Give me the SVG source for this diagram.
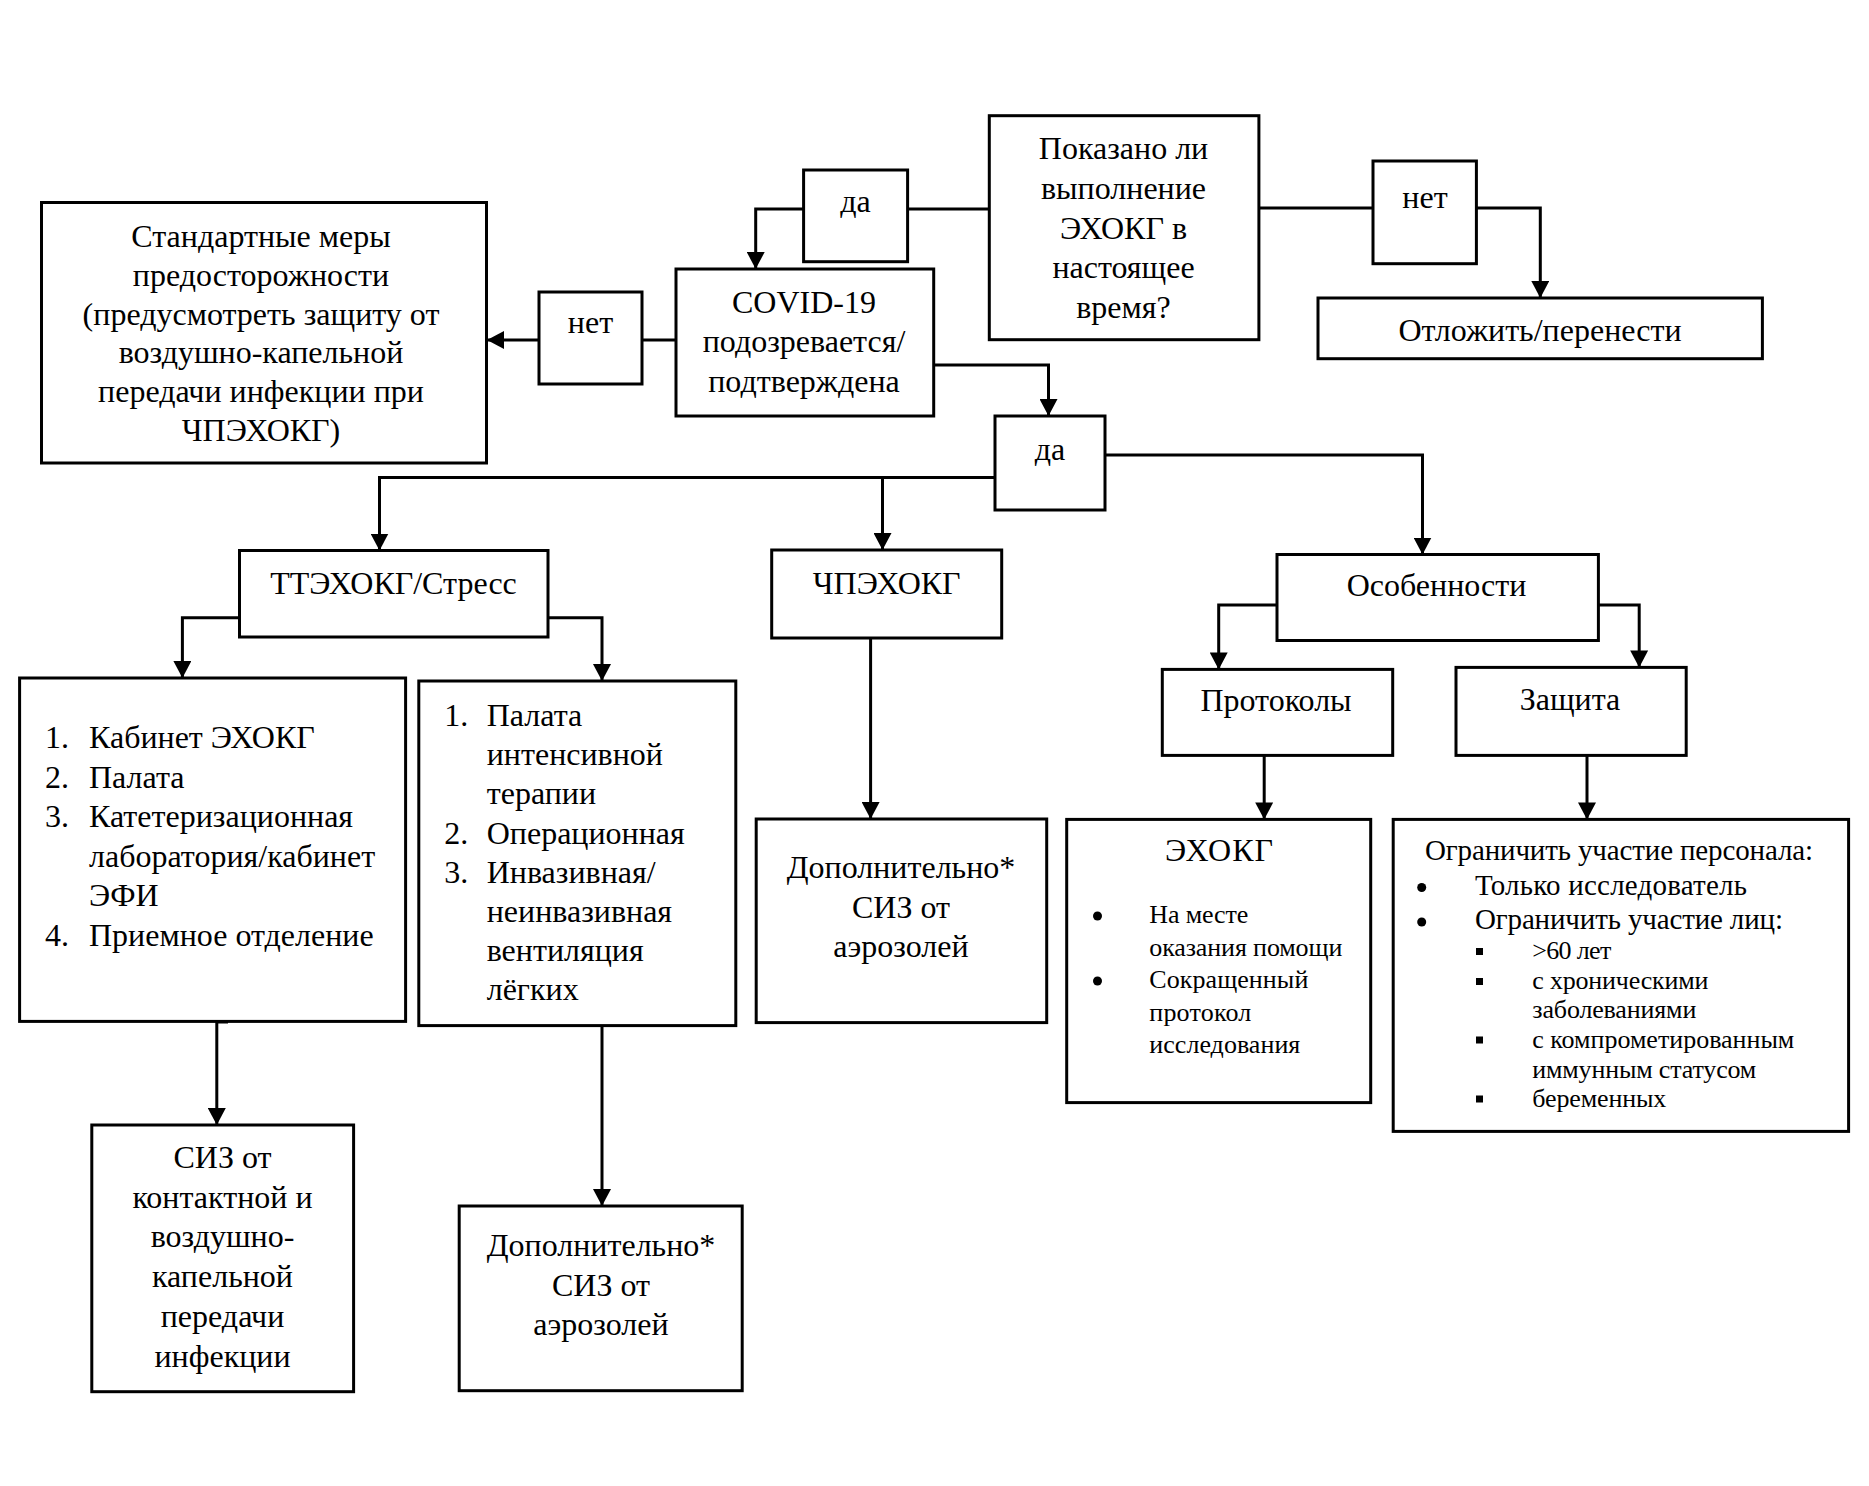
<svg xmlns="http://www.w3.org/2000/svg" width="1869" height="1486" viewBox="0 0 1869 1486">
<defs>
<style>
.box{fill:#fff;stroke:#000;stroke-width:3}
.t{font-family:"Liberation Serif","Times New Roman",serif;font-size:32px;fill:#000}
.c{text-anchor:middle}
.s29{font-size:29px}
.s26{font-size:26px}
.conn{fill:none;stroke:#000;stroke-width:3}
.dot{fill:#000}
</style>
<marker id="ah" markerWidth="18" markerHeight="18" refX="17" refY="9" orient="auto" markerUnits="userSpaceOnUse"><path d="M0,0 L17,9 L0,18 z" fill="#000"/></marker>
</defs>
<rect width="1869" height="1486" fill="#fff"/>

<g id="connectors">
<path class="conn" d="M989,209 H907.5"/>
<path class="conn" d="M803.6,209 H755.7 V269" marker-end="url(#ah)"/>
<path class="conn" d="M1259,208 H1373"/>
<path class="conn" d="M1476,208 H1540.3 V298" marker-end="url(#ah)"/>
<path class="conn" d="M676,340 H642"/>
<path class="conn" d="M539,340 H487" marker-end="url(#ah)"/>
<path class="conn" d="M933.7,365 H1048.5 V416" marker-end="url(#ah)"/>
<path class="conn" d="M995,477.5 H379.5 V550.5" marker-end="url(#ah)"/>
<path class="conn" d="M882.5,477.5 V550" marker-end="url(#ah)"/>
<path class="conn" d="M1105,455 H1422.5 V554.5" marker-end="url(#ah)"/>
<path class="conn" d="M239.5,617.7 H182.4 V678" marker-end="url(#ah)"/>
<path class="conn" d="M548,617.7 H602 V681" marker-end="url(#ah)"/>
<path class="conn" d="M870.6,638 V819" marker-end="url(#ah)"/>
<path class="conn" d="M1277,605 H1218.7 V669.4" marker-end="url(#ah)"/>
<path class="conn" d="M1598.4,605 H1639.2 V667.4" marker-end="url(#ah)"/>
<path class="conn" d="M1264.2,755.5 V819.4" marker-end="url(#ah)"/>
<path class="conn" d="M1587,755.5 V819.4" marker-end="url(#ah)"/>
<path class="conn" d="M228,1022 H216.8 V1125" marker-end="url(#ah)"/>
<path class="conn" d="M602,1026 V1206" marker-end="url(#ah)"/>
</g>

<g id="n-question">
<rect class="box" x="989.3" y="115.7" width="269.6" height="224"/>
<text class="t c" x="1123.5" y="159">Показано ли</text>
<text class="t c" x="1123.5" y="198.8">выполнение</text>
<text class="t c" x="1123.5" y="238.6">ЭХОКГ в</text>
<text class="t c" x="1123.5" y="278.4">настоящее</text>
<text class="t c" x="1123.5" y="318.2">время?</text>
</g>

<g id="n-da1">
<rect class="box" x="803.6" y="170" width="104" height="91.7"/>
<text class="t c" x="855.5" y="212">да</text>
</g>

<g id="n-net2">
<rect class="box" x="1373" y="161" width="103.4" height="102.7"/>
<text class="t c" x="1425" y="208">нет</text>
</g>

<g id="n-postpone">
<rect class="box" x="1318" y="298" width="444.4" height="60.7"/>
<text class="t c" x="1540" y="340.5">Отложить/перенести</text>
</g>

<g id="n-covid">
<rect class="box" x="676" y="269" width="257.7" height="147"/>
<text class="t c" x="804" y="312.5">COVID-19</text>
<text class="t c" x="804" y="352">подозревается/</text>
<text class="t c" x="804" y="391.5">подтверждена</text>
</g>

<g id="n-net1">
<rect class="box" x="539" y="292" width="103" height="92"/>
<text class="t c" x="590.5" y="333">нет</text>
</g>

<g id="n-standard">
<rect class="box" x="41.5" y="202.5" width="445" height="260.5"/>
<text class="t c" x="261" y="247">Стандартные меры</text>
<text class="t c" x="261" y="285.8">предосторожности</text>
<text class="t c" x="261" y="324.6">(предусмотреть защиту от</text>
<text class="t c" x="261" y="363.4">воздушно-капельной</text>
<text class="t c" x="261" y="402.2">передачи инфекции при</text>
<text class="t c" x="261" y="441">ЧПЭХОКГ)</text>
</g>

<g id="n-da2">
<rect class="box" x="995" y="416" width="110" height="94"/>
<text class="t c" x="1050" y="460">да</text>
</g>

<g id="n-tte">
<rect class="box" x="239.5" y="550.5" width="308.5" height="86.5"/>
<text class="t c" x="393.5" y="594">ТТЭХОКГ/Стресс</text>
</g>

<g id="n-chp">
<rect class="box" x="771.7" y="550" width="230" height="88"/>
<text class="t c" x="886.7" y="594">ЧПЭХОКГ</text>
</g>

<g id="n-osob">
<rect class="box" x="1277" y="554.5" width="321.4" height="86"/>
<text class="t c" x="1436.5" y="595.5">Особенности</text>
</g>

<g id="n-list1">
<rect class="box" x="19.6" y="678" width="386" height="343.4"/>
<text class="t" x="45" y="748">1.</text>
<text class="t" x="89" y="748">Кабинет ЭХОКГ</text>
<text class="t" x="45" y="787.6">2.</text>
<text class="t" x="89" y="787.6">Палата</text>
<text class="t" x="45" y="827.2">3.</text>
<text class="t" x="89" y="827.2">Катетеризационная</text>
<text class="t" x="89" y="866.8">лаборатория/кабинет</text>
<text class="t" x="89" y="906.4">ЭФИ</text>
<text class="t" x="45" y="946">4.</text>
<text class="t" x="89" y="946">Приемное отделение</text>
</g>

<g id="n-list2">
<rect class="box" x="418.8" y="681" width="317" height="344.6"/>
<text class="t" x="444.3" y="726">1.</text>
<text class="t" x="486.7" y="726">Палата</text>
<text class="t" x="486.7" y="765.2">интенсивной</text>
<text class="t" x="486.7" y="804.4">терапии</text>
<text class="t" x="444.3" y="843.6">2.</text>
<text class="t" x="486.7" y="843.6">Операционная</text>
<text class="t" x="444.3" y="882.8">3.</text>
<text class="t" x="486.7" y="882.8">Инвазивная/</text>
<text class="t" x="486.7" y="922">неинвазивная</text>
<text class="t" x="486.7" y="961.2">вентиляция</text>
<text class="t" x="486.7" y="1000.4">лёгких</text>
</g>

<g id="n-dop1">
<rect class="box" x="756.2" y="819" width="290.5" height="203.6"/>
<text class="t c" x="901" y="877.5">Дополнительно*</text>
<text class="t c" x="901" y="917.5">СИЗ от</text>
<text class="t c" x="901" y="957">аэрозолей</text>
</g>

<g id="n-protocols">
<rect class="box" x="1162.3" y="669.4" width="230.4" height="86"/>
<text class="t c" x="1276" y="711">Протоколы</text>
</g>

<g id="n-zashita">
<rect class="box" x="1456" y="667.4" width="230.2" height="88"/>
<text class="t c" x="1570" y="709.5">Защита</text>
</g>

<g id="n-echo">
<rect class="box" x="1066.7" y="819.4" width="304" height="283.2"/>
<text class="t c" x="1219" y="861" font-size="30" textLength="108">ЭХОКГ</text>
<circle class="dot" cx="1097.5" cy="916" r="4.5"/>
<text class="t s26" x="1149.3" y="923" textLength="99">На месте</text>
<text class="t s26" x="1149.3" y="955.5" textLength="193">оказания помощи</text>
<circle class="dot" cx="1097.5" cy="981" r="4.5"/>
<text class="t s26" x="1149.3" y="988" textLength="159">Сокращенный</text>
<text class="t s26" x="1149.3" y="1020.5" textLength="102">протокол</text>
<text class="t s26" x="1149.3" y="1053" textLength="151">исследования</text>
</g>

<g id="n-protect">
<rect class="box" x="1393.2" y="819.4" width="455.4" height="312"/>
<text class="t s29" x="1425" y="860" textLength="388">Ограничить участие персонала:</text>
<circle class="dot" cx="1421.7" cy="887.5" r="4.5"/>
<text class="t s29" x="1475" y="894.5" textLength="272">Только исследователь</text>
<circle class="dot" cx="1421.7" cy="922" r="4.5"/>
<text class="t s29" x="1475" y="929" textLength="308">Ограничить участие лиц:</text>
<rect class="dot" x="1476" y="948" width="7" height="7"/>
<text class="t s26" x="1532.3" y="959" textLength="79">&gt;60 лет</text>
<rect class="dot" x="1476" y="978" width="7" height="7"/>
<text class="t s26" x="1532.3" y="989" textLength="176">с хроническими</text>
<text class="t s26" x="1532.3" y="1017.7" textLength="164">заболеваниями</text>
<rect class="dot" x="1476" y="1036.5" width="7" height="7"/>
<text class="t s26" x="1532.3" y="1047.7" textLength="262">с компрометированным</text>
<text class="t s26" x="1532.3" y="1077.5" textLength="224">иммунным статусом</text>
<rect class="dot" x="1476" y="1095.5" width="7" height="7"/>
<text class="t s26" x="1532.3" y="1106.5" textLength="134">беременных</text>
</g>

<g id="n-siz">
<rect class="box" x="91.8" y="1125" width="261.8" height="266.7"/>
<text class="t c" x="222.5" y="1167.5">СИЗ от</text>
<text class="t c" x="222.5" y="1207.5">контактной и</text>
<text class="t c" x="222.5" y="1247">воздушно-</text>
<text class="t c" x="222.5" y="1287">капельной</text>
<text class="t c" x="222.5" y="1326.5">передачи</text>
<text class="t c" x="222.5" y="1366.5">инфекции</text>
</g>

<g id="n-dop2">
<rect class="box" x="459.2" y="1206" width="283" height="184.7"/>
<text class="t c" x="601" y="1256">Дополнительно*</text>
<text class="t c" x="601" y="1295.5">СИЗ от</text>
<text class="t c" x="601" y="1335">аэрозолей</text>
</g>
</svg>
